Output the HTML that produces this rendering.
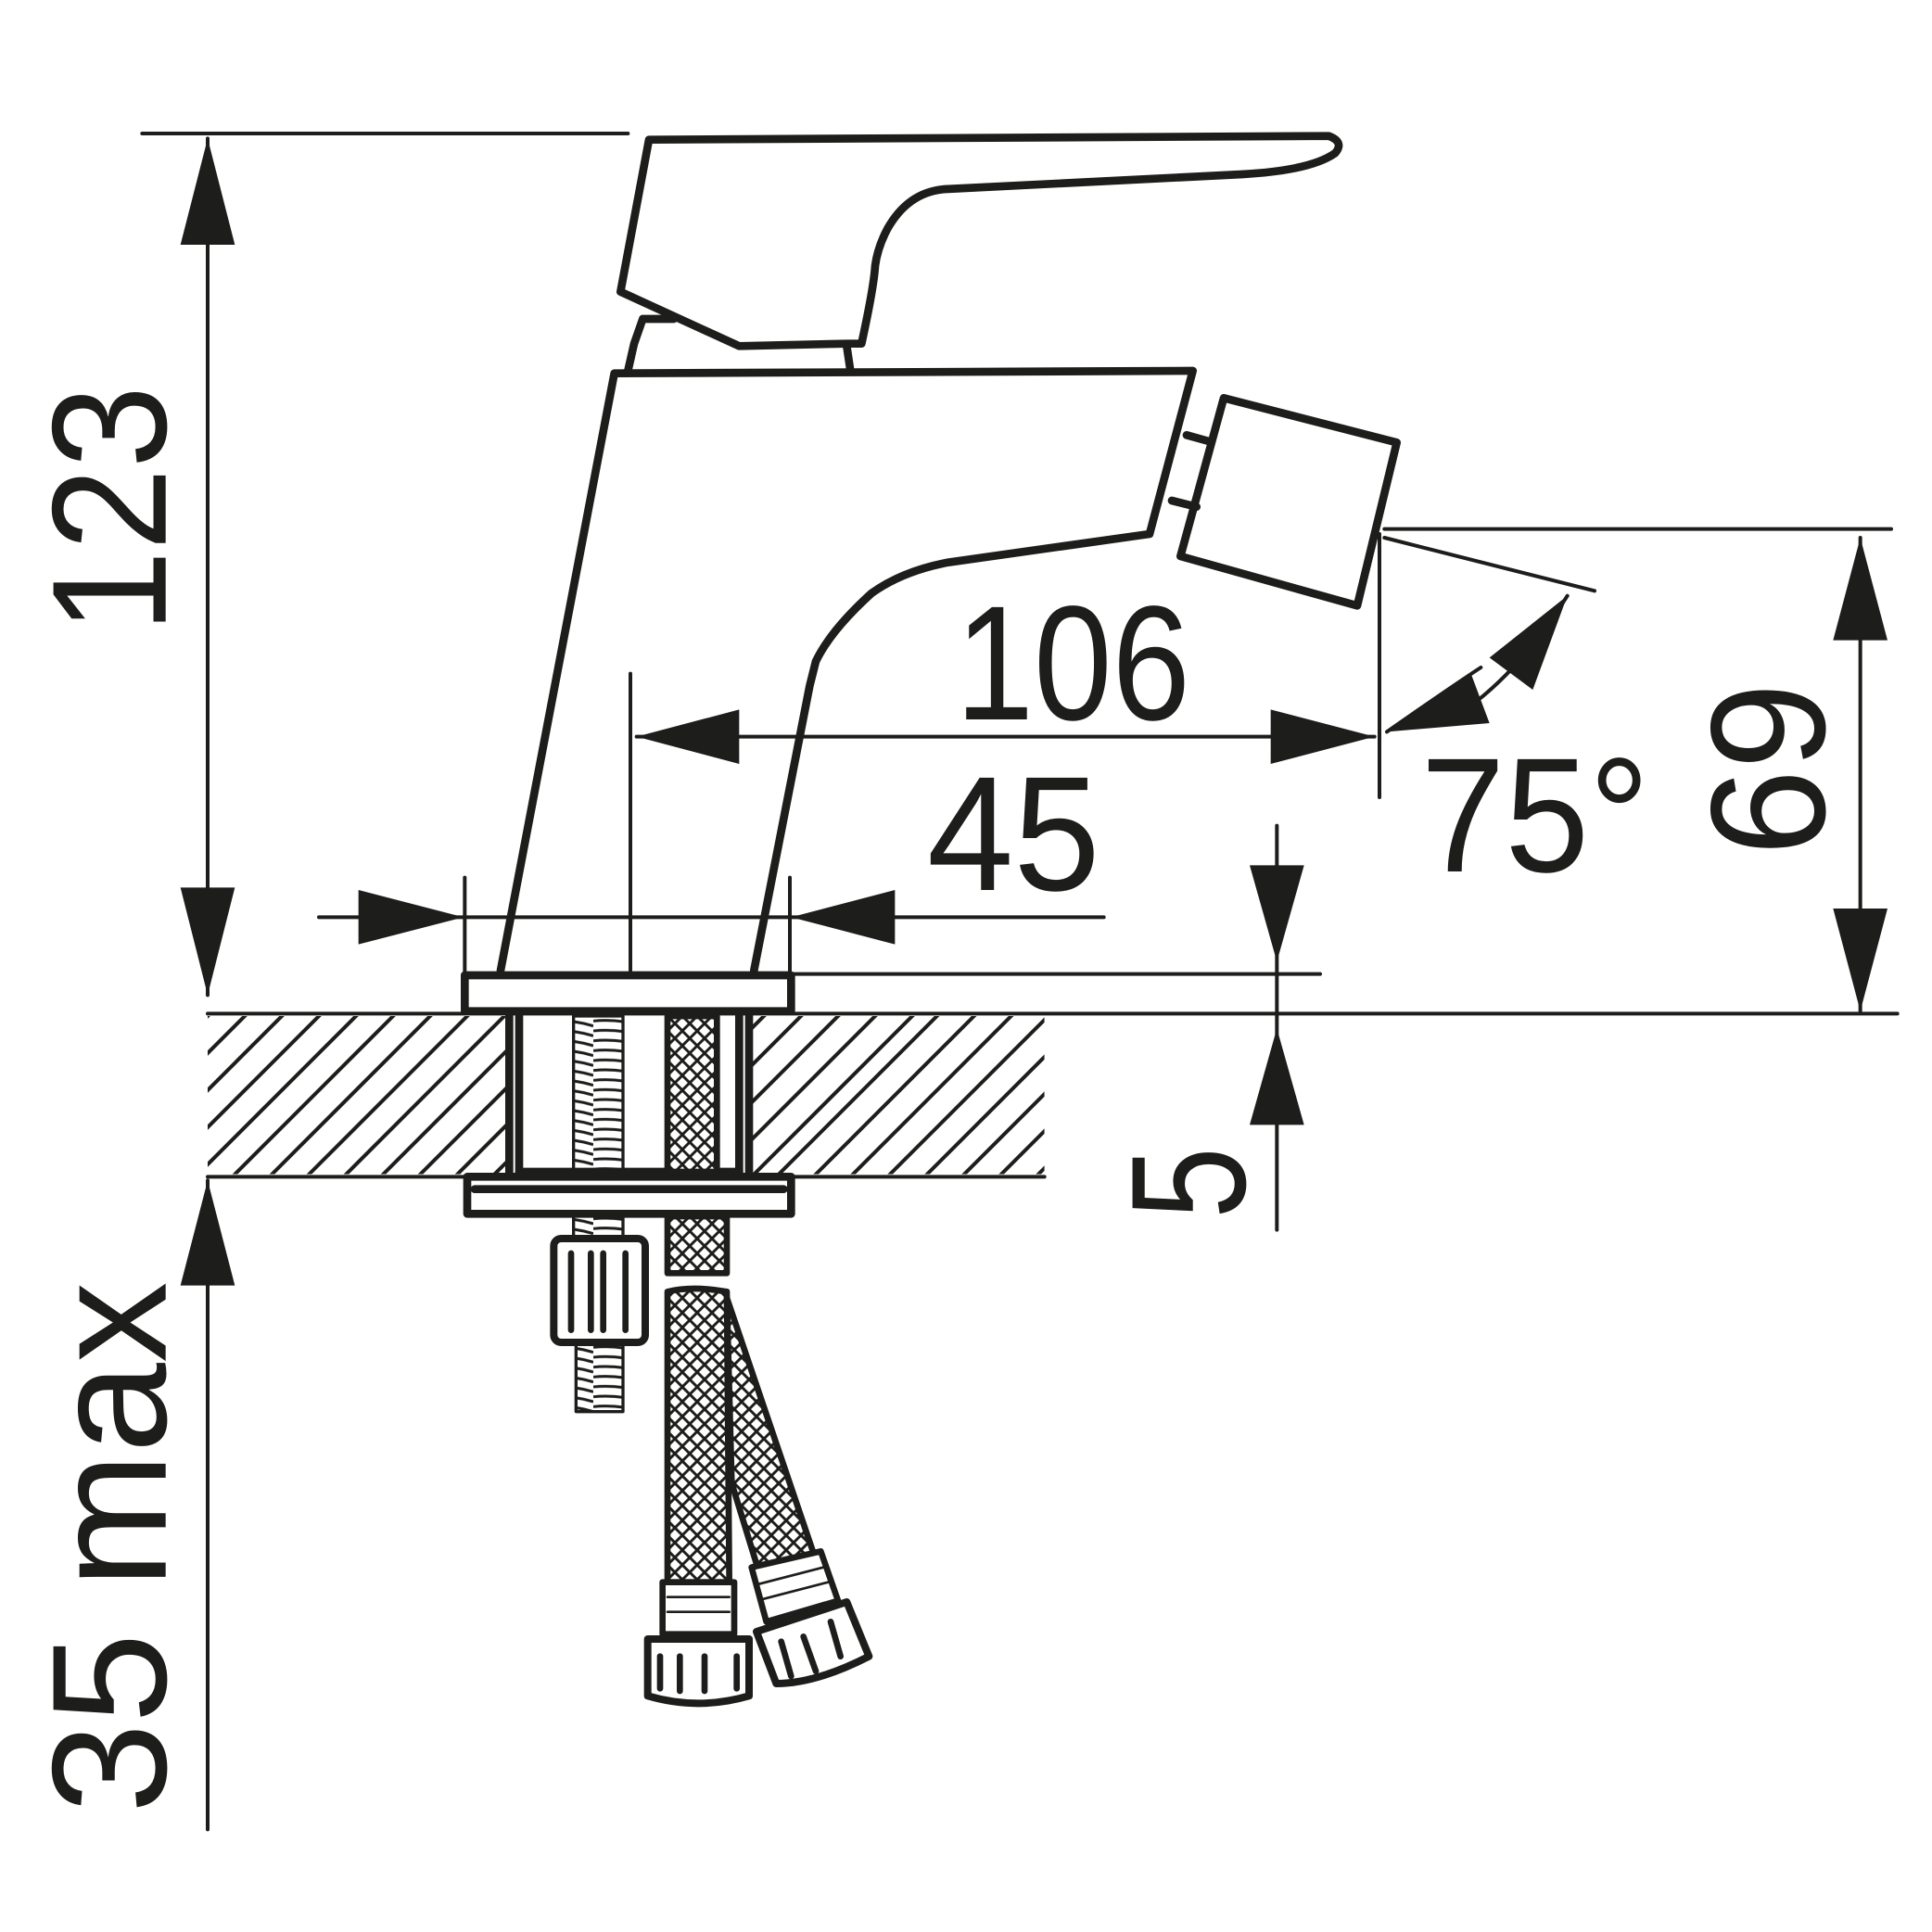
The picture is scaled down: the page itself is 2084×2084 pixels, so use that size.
<!DOCTYPE html>
<html><head><style>html,body{margin:0;padding:0;background:#fff}svg{display:block}</style></head>
<body>
<svg width="2084" height="2084" viewBox="0 0 1563 1563" xmlns="http://www.w3.org/2000/svg">
<defs>
<clipPath id="hc"><rect x="168" y="822" width="244" height="128"/><rect x="606" y="822" width="239" height="128"/></clipPath>
<pattern id="braid" width="12" height="12" patternUnits="userSpaceOnUse">
<rect width="12" height="12" fill="#fff"/>
<path d="M0 6 L6 0 M6 12 L12 6 M0 6 L6 12 M6 0 L12 6" stroke="#1d1d1b" stroke-width="2.2" fill="none"/>
</pattern>
<pattern id="thread" width="40" height="8" patternUnits="userSpaceOnUse">
<rect width="40" height="8" fill="#fff"/>
<path d="M0 2 Q20 0 40 6" stroke="#1d1d1b" stroke-width="2.2" fill="none"/>
</pattern>
</defs>
<g fill="none" stroke="#1d1d1b" stroke-linecap="round" stroke-linejoin="round">
<g stroke-width="3">
<line x1="115" y1="108" x2="508" y2="108"/>
<line x1="168" y1="112" x2="168" y2="805"/>
<line x1="168" y1="955" x2="168" y2="1480"/>
<line x1="258" y1="742" x2="893" y2="742"/>
<line x1="376" y1="710" x2="376" y2="788"/>
<line x1="639" y1="710" x2="639" y2="788"/>
<line x1="510" y1="545" x2="510" y2="785"/>
<line x1="515" y1="596" x2="1112" y2="596"/>
<line x1="1116" y1="432" x2="1116" y2="645"/>
<line x1="1120" y1="428" x2="1530" y2="428"/>
<line x1="1505" y1="435" x2="1505" y2="818"/>
<line x1="1120" y1="435" x2="1290" y2="478"/>
<line x1="1033" y1="668" x2="1033" y2="995"/>
<line x1="640" y1="788" x2="1068" y2="788"/>
<line x1="168" y1="820" x2="1535" y2="820"/>
<line x1="168" y1="952" x2="845" y2="952"/>
<path d="M1122 592 Q1175 555 1198 540 M1195 567 Q1235 535 1268 482"/>
<g clip-path="url(#hc)">
<path d="M140 1000 L340 800 M170 1000 L370 800 M200 1000 L400 800 M230 1000 L430 800 M260 1000 L460 800 M290 1000 L490 800 M320 1000 L520 800 M350 1000 L550 800 M380 1000 L580 800 M410 1000 L610 800 M580 1000 L780 800 M610 1000 L810 800 M640 1000 L840 800 M670 1000 L870 800 M700 1000 L900 800 M730 1000 L930 800 M760 1000 L960 800 M790 1000 L990 800 M820 1000 L1020 800 M850 1000 L1050 800 M110 1000 L310 800 M80 1000 L280 800 M50 1000 L250 800 M20 1000 L220 800 M-10 1000 L190 800 M440 1000 L640 800 M470 1000 L670 800 M500 1000 L700 800 M530 1000 L730 800 M560 1000 L760 800"/>
</g>
</g>
<g fill="#1d1d1b" stroke="none">
<polygon points="168,112 146,198 190,198"/>
<polygon points="168,805 146,718 190,718"/>
<polygon points="168,955 146,1040 190,1040"/>
<polygon points="375,742 290,720 290,764"/>
<polygon points="640,742 724,720 724,764"/>
<polygon points="515,596 598,574 598,618"/>
<polygon points="1112,596 1028,574 1028,618"/>
<polygon points="1505,435 1483,518 1527,518"/>
<polygon points="1505,818 1483,735 1527,735"/>
<polygon points="1033,778 1011,700 1055,700"/>
<polygon points="1033,832 1011,910 1055,910"/>
<polygon points="1122,592 1190,545 1205,585"/>
<polygon points="1268,482 1205,532 1240,558"/>
</g>
<g stroke-width="6.5">
<path fill="#fff" d="M525 113 L1075 110 Q1088 115 1080 124 Q1060 138 1005 141 L765 153 Q735 155 718 185 Q710 200 708 215 Q707 232 697 278 L685 278 L598 280 L502 236 Z"/>
<path d="M508 300 L513 278 L520 258 L545 258"/>
<path d="M685 280 L688 300"/>
<path d="M405 785 L497 302 L965 300 L930 432 L767 455 Q730 462 705 480 Q672 510 660 535 L655 555 L610 785" />
<path fill="#fff" d="M990 322 L1130 358 L1098 490 L955 450 Z"/>
<path d="M960 352 L978 357 M948 405 L968 410"/>
<rect fill="#fff" x="376" y="789" width="264" height="29"/>
<rect fill="#fff" x="378" y="952" width="262" height="30"/>
<line x1="384" y1="962" x2="634" y2="962"/>
<line x1="412" y1="820" x2="412" y2="950"/>
<line x1="420" y1="820" x2="420" y2="950"/>
<line x1="598" y1="820" x2="598" y2="950"/>
<line x1="606" y1="820" x2="606" y2="950"/>
<line x1="420" y1="948" x2="598" y2="948"/>
</g>
<rect x="464" y="822" width="40" height="124" fill="url(#thread)" stroke-width="2.5"/>
<rect x="464" y="984" width="40" height="18" fill="url(#thread)" stroke-width="2.5"/>
<rect x="466" y="1086" width="38" height="56" fill="url(#thread)" stroke-width="2.5"/>
<rect x="448" y="1002" width="74" height="84" rx="6" fill="#fff" stroke-width="6"/>
<path d="M462 1014 L462 1076 M478 1014 L478 1076 M488 1014 L488 1076 M506 1014 L506 1076" stroke-width="5"/>
<rect x="540" y="822" width="40" height="126" fill="url(#braid)" stroke-width="5"/>
<rect x="540" y="984" width="48" height="46" fill="url(#braid)" stroke-width="5"/>
<path d="M540 1045 Q560 1040 588 1045 L590 1280 L540 1280 Z" fill="url(#braid)" stroke-width="5"/>
<path d="M588 1050 L660 1262 L615 1275 L592 1200 Z" fill="url(#braid)" stroke-width="5"/>
<path d="M536 1280 L594 1280 L594 1322 L536 1322 Z M608 1268 L664 1255 L678 1295 L620 1312 Z" fill="#fff" stroke-width="5"/>
<path d="M540 1292 L590 1292 M540 1304 L590 1304 M612 1282 L666 1268 M616 1294 L670 1280" stroke-width="2"/>
<path d="M524 1326 L606 1326 L606 1372 Q565 1384 524 1372 Z" fill="#fff" stroke-width="6"/>
<path d="M534 1340 L534 1366 M550 1340 L550 1368 M570 1340 L570 1368 M596 1340 L596 1366" stroke-width="5"/>
<path d="M612 1320 L685 1296 L703 1340 Q660 1362 628 1362 Z" fill="#fff" stroke-width="6"/>
<path d="M632 1328 L640 1356 M650 1324 L660 1352 M672 1312 L680 1340" stroke-width="5"/>
</g>
<g font-family="'Liberation Sans',sans-serif" fill="#1d1d1b" font-size="132">
<text x="868" y="582" text-anchor="middle" textLength="190" lengthAdjust="spacingAndGlyphs">106</text>
<text x="820" y="720" text-anchor="middle" textLength="140" lengthAdjust="spacingAndGlyphs">45</text>
<text x="1242" y="705" text-anchor="middle" textLength="185" lengthAdjust="spacingAndGlyphs">75°</text>
<text transform="translate(134,412) rotate(-90)" text-anchor="middle" textLength="200" lengthAdjust="spacingAndGlyphs">123</text>
<text transform="translate(134,1252) rotate(-90)" text-anchor="middle" textLength="430" lengthAdjust="spacingAndGlyphs">35 max</text>
<text transform="translate(1007,957) rotate(-90)" text-anchor="middle" textLength="58" lengthAdjust="spacingAndGlyphs">5</text>
<text transform="translate(1385,622) rotate(90)" text-anchor="middle" textLength="140" lengthAdjust="spacingAndGlyphs">69</text>
</g>
</svg>
</body></html>
